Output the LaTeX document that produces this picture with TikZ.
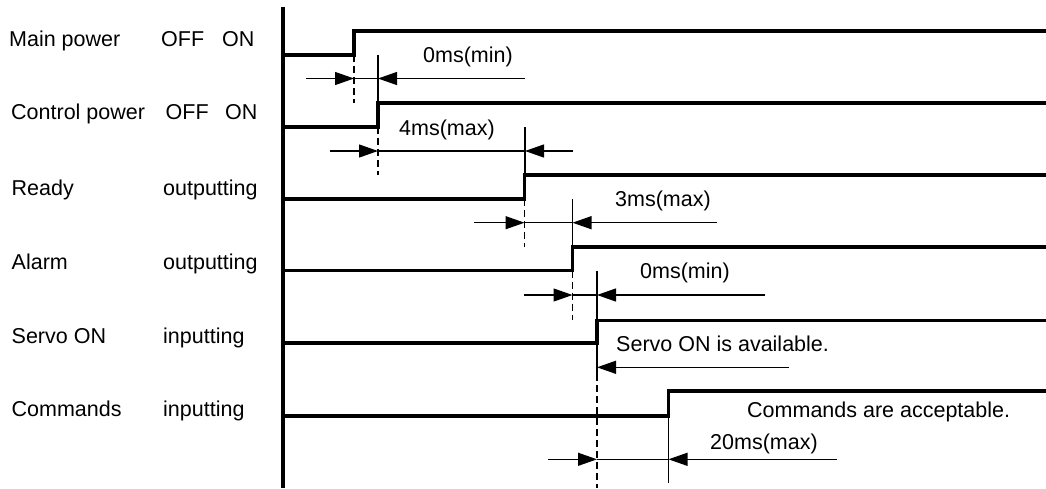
\documentclass[tikz,border=0pt]{standalone}
\usepackage{fontspec}
\setmainfont{Liberation Sans}
\usetikzlibrary{arrows.meta}
\begin{document}
\begin{tikzpicture}[x=1pt,y=-1pt,
  signal/.style={line width=3.4pt,line join=miter},
  axisline/.style={line width=3.4pt},
  thin/.style={line width=1.2pt},
  guide/.style={line width=1.2pt,dash pattern=on 7pt off 4pt},
  dimarrow/.style={line width=1.2pt,-{Triangle[length=19pt,width=13pt]}},
  lbl/.style={inner sep=0pt,anchor=base west,font=\fontsize{21.5}{26}\selectfont}]
\useasboundingbox (0,0) rectangle (1046,488);
% axis
\coordinate (axtop) at (283,7);
\coordinate (axbot) at (283,488);
\draw[axisline] (axtop) -- (axbot);
% labels left
\node[lbl] (l1) at (9,46.5) {Main power};
\node[lbl] (l1a) at (161,46) {OFF};
\node[lbl] (l1b) at (222,46) {ON};
\node[lbl] (l2) at (11,119.5) {Control power};
\node[lbl] (l2a) at (165.5,119.5) {OFF};
\node[lbl] (l2b) at (225,119.5) {ON};
\node[lbl] (l3) at (11.5,195.5) {Ready};
\node[lbl] (l3a) at (163,195.5) {outputting};
\node[lbl] (l4) at (11.5,269) {Alarm};
\node[lbl] (l4a) at (163,269) {outputting};
\node[lbl] (l5) at (11.5,343) {Servo ON};
\node[lbl] (l5a) at (163,343) {inputting};
\node[lbl] (l6) at (11.5,416.5) {Commands};
\node[lbl] (l6a) at (163,416.5) {inputting};
% signals
\draw[signal] (283,55) -- (354,55) -- (354,31) -- (1046,31);
\draw[signal] (283,127) -- (378,127) -- (378,103) -- (1046,103);
\draw[signal] (283,199) -- (524.5,199) -- (524.5,175) -- (1046,175);
\draw[signal] (283,270.5) -- (572.5,270.5) -- (572.5,247) -- (1046,247);
\draw[signal] (283,343) -- (597,343) -- (597,320.5) -- (1046,320.5);
\draw[signal] (283,416) -- (668.5,416) -- (668.5,391) -- (1046,391);
% timing 1: 0ms(min)
\coordinate (d1a) at (354,55);  \coordinate (d1b) at (354,103);
\coordinate (e1a) at (378,55);  \coordinate (e1b) at (378,103);
\draw[guide] (d1a) -- (d1b);
\draw[thin] (e1a) -- (e1b);
\coordinate (a1s) at (306,78.5); \coordinate (a1l) at (354,78.5);
\coordinate (a1r) at (378,78.5); \coordinate (a1e) at (525,78.5);
\draw[dimarrow] (a1s) -- (a1l);
\draw[thin] (a1l) -- (a1r);
\draw[dimarrow] (a1e) -- (a1r);
\node[lbl] (t1) at (423,62) {0ms(min)};
% timing 2: 4ms(max)
\coordinate (d2a) at (378,127);  \coordinate (d2b) at (378,175);
\coordinate (e2a) at (525,127);  \coordinate (e2b) at (525,175);
\draw[guide] (d2a) -- (d2b);
\draw[thin] (e2a) -- (e2b);
\coordinate (a2s) at (330,151); \coordinate (a2l) at (378,151);
\coordinate (a2r) at (525,151); \coordinate (a2e) at (573,151);
\draw[dimarrow] (a2s) -- (a2l);
\draw[thin] (a2l) -- (a2r);
\draw[dimarrow] (a2e) -- (a2r);
\node[lbl] (t2) at (399,135) {4ms(max)};
% timing 3: 3ms(max)
\coordinate (d3a) at (524.5,199);  \coordinate (d3b) at (524.5,247);
\coordinate (e3a) at (572.5,199);  \coordinate (e3b) at (572.5,247);
\draw[guide] (d3a) -- (d3b);
\draw[thin] (e3a) -- (e3b);
\coordinate (a3s) at (474,222.7); \coordinate (a3l) at (524.5,222.7);
\coordinate (a3r) at (572.5,222.7); \coordinate (a3e) at (717,222.7);
\draw[dimarrow] (a3s) -- (a3l);
\draw[thin] (a3l) -- (a3r);
\draw[dimarrow] (a3e) -- (a3r);
\node[lbl] (t3) at (615,206.5) {3ms(max)};
% timing 4: 0ms(min)
\coordinate (d4a) at (572.5,270.5);  \coordinate (d4b) at (572.5,320);
\coordinate (e4a) at (597,270.5);  \coordinate (e4b) at (597,320.5);
\draw[guide] (d4a) -- (d4b);
\draw[thin] (e4a) -- (e4b);
\coordinate (a4s) at (524,295); \coordinate (a4l) at (572.5,295);
\coordinate (a4r) at (597,295); \coordinate (a4e) at (765,295);
\draw[dimarrow] (a4s) -- (a4l);
\draw[thin] (a4l) -- (a4r);
\draw[dimarrow] (a4e) -- (a4r);
\node[lbl] (t4) at (640,278) {0ms(min)};
% Servo ON available
\coordinate (s5a) at (597,343); \coordinate (s5b) at (597,374); \coordinate (s5c) at (597,488);
\draw[thin] (s5a) -- (s5b);
\draw[guide] (s5b) -- (s5c);
\coordinate (a5e) at (789,367.3); \coordinate (a5r) at (597,367.3);
\draw[dimarrow] (a5e) -- (a5r);
\node[lbl] (t5) at (616,351) {Servo ON is available.};
% Commands acceptable
\coordinate (e6a) at (668.5,416); \coordinate (e6b) at (668.5,483);
\draw[thin] (e6a) -- (e6b);
\coordinate (a6s) at (548,459.3); \coordinate (a6l) at (597,459.3);
\coordinate (a6r) at (668.5,459.3); \coordinate (a6e) at (836.7,459.3);
\draw[dimarrow] (a6s) -- (a6l);
\draw[thin] (a6l) -- (a6r);
\draw[dimarrow] (a6e) -- (a6r);
\node[lbl] (t6) at (747,417) {Commands are acceptable.};
\node[lbl] (t7) at (710,449) {20ms(max)};
\end{tikzpicture}
\end{document}
